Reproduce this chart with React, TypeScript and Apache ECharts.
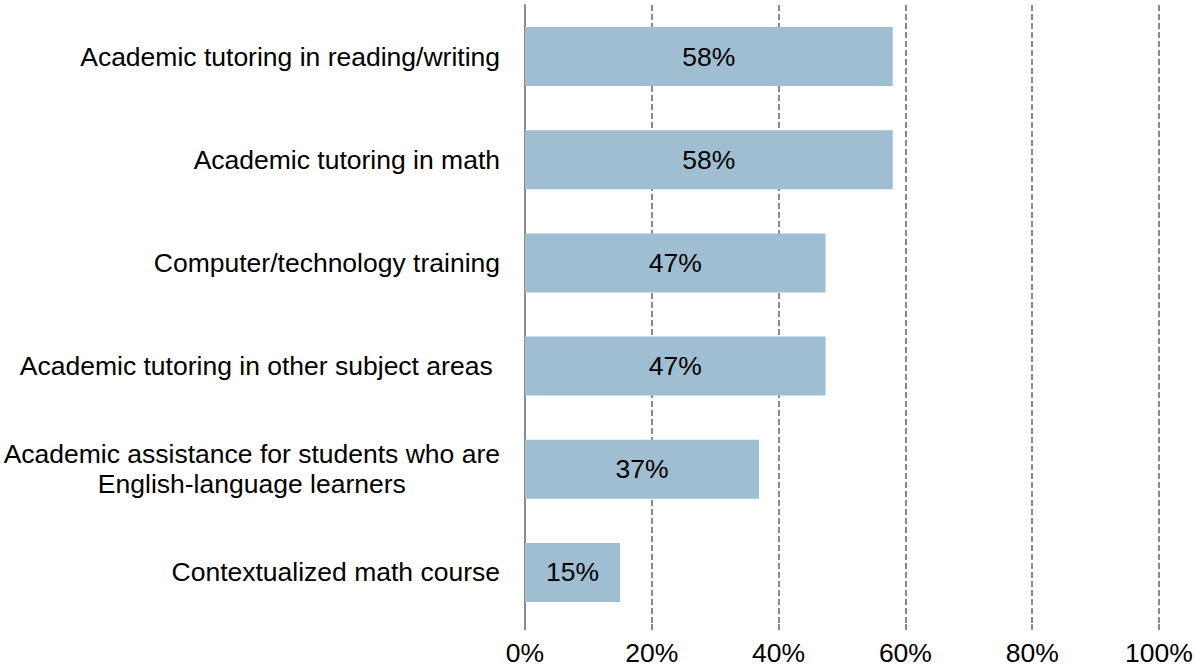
import React, { useEffect, useRef } from "react";
import * as echarts from "echarts";

const categories = [
  "Academic tutoring in reading/writing",
  "Academic tutoring in math",
  "Computer/technology training",
  "Academic tutoring in other subject areas\u00A0",
  "Academic assistance for students who are\nEnglish-language learners",
  "Contextualized math course",
];
const values = [58, 58, 47.4, 47.4, 36.9, 15];
const xTicks = [0, 20, 40, 60, 80, 100];

const FONT = "'Liberation Sans', Arial, Helvetica, sans-serif";
const GRAY = "#8a8a8a";
const FS = 26.5;

export default function App() {
  const ref = useRef<HTMLDivElement>(null);
  useEffect(() => {
    if (!ref.current) return;
    const chart = echarts.init(ref.current, null, { renderer: "svg" });
    chart.setOption({
      animation: false,
      backgroundColor: "#ffffff",
      textStyle: { fontFamily: FONT },
      grid: { left: 525, right: 37, top: 5, bottom: 46, containLabel: false },
      xAxis: {
        type: "value",
        min: xTicks[0],
        max: xTicks[xTicks.length - 1],
        interval: 20,
        axisLine: { show: false },
        axisTick: {
          show: true,
          length: 8,
          lineStyle: { color: GRAY, width: 2, type: [6, 3] },
        },
        axisLabel: {
          margin: 15,
          fontSize: FS,
          color: "#000",
          fontFamily: FONT,
          formatter: (v: number) => `${v}%`,
        },
        splitLine: {
          show: true,
          lineStyle: { color: GRAY, width: 2, type: [6, 3] },
        },
      },
      yAxis: {
        type: "category",
        inverse: true,
        data: categories,
        axisLine: { show: true, lineStyle: { color: GRAY, width: 2 } },
        axisTick: { show: false },
        axisLabel: {
          margin: 25,
          fontSize: FS,
          lineHeight: 30,
          color: "#000",
          fontFamily: FONT,
          formatter: (v: string) =>
            v.indexOf("\n") >= 0
              ? v
                  .split("\n")
                  .map((l) => `{c|${l}}`)
                  .join("\n")
              : v,
          rich: {
            c: {
              align: "center",
              fontSize: FS,
              lineHeight: 30,
              color: "#000",
              fontFamily: FONT,
            },
          },
        },
      },
      series: [
        {
          type: "bar",
          data: values,
          barWidth: 59,
          itemStyle: { color: "#9fbed2" },
          label: {
            show: true,
            position: "inside",
            fontSize: FS,
            color: "#000",
            fontFamily: FONT,
            formatter: (p: any) => `${Math.round(p.value)}%`,
          },
        },
      ],
    });
    return () => chart.dispose();
  }, []);
  return (
    <div
      ref={ref}
      style={{ position: "absolute", left: 0, top: 0, width: 1196, height: 670 }}
    />
  );
}
